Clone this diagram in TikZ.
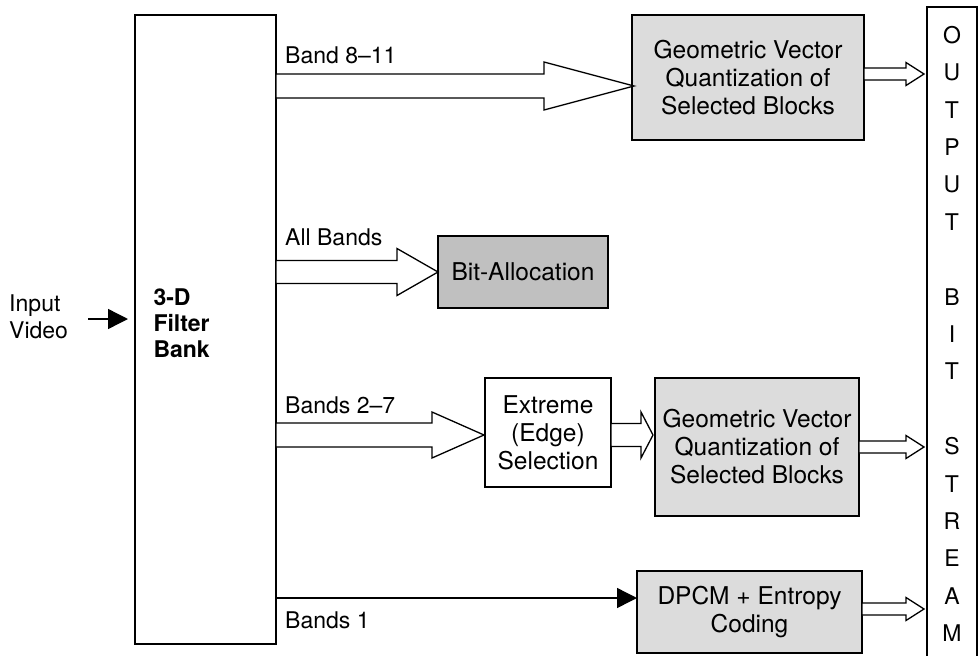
\documentclass[tikz,border=0pt]{standalone}
\usepackage{fontspec}
\setmainfont{TeX Gyre Heros}
\usetikzlibrary{calc,arrows.meta}
\newcommand{\hollowarr}[5]{%
  \draw[harrowstyle] ($(#1)+(0,-#3)$) -- ($(#2)+(-#5,-#3)$) -- ($(#2)+(-#5,-#4)$) -- (#2)
    -- ($(#2)+(-#5,#4)$) -- ($(#2)+(-#5,#3)$) -- ($(#1)+(0,#3)$) -- cycle;}
\tikzset{
  boxstyle/.style={draw, line width=1.4pt, inner sep=0pt, outer sep=0pt, rectangle},
  txt/.style={font=\fontsize{23}{27}\selectfont},
  btxt/.style={font=\fontsize{24.5}{28}\selectfont},
  harrowstyle/.style={draw, fill=white, line width=1.3pt, line join=miter},
  solidarr/.style={line width=1.4pt, -{Triangle[length=20pt,width=20pt]}},
}
\definecolor{lgray}{HTML}{DCDCDC}
\definecolor{mgray}{HTML}{C0C0C0}
\begin{document}
\begin{tikzpicture}[x=1pt,y=-1pt]
\useasboundingbox (0,0) rectangle (980,656);
\clip (0,0) rectangle (980,656);

% boxes
\node[boxstyle, minimum width=141pt, minimum height=629pt] (fb) at (205.5,329.5) {};
\node[txt, font=\fontsize{23}{26}\selectfont\bfseries, anchor=west, align=left] (fbtxt) at (150,323) {3-D\\Filter\\Bank};

\node[boxstyle, fill=lgray, minimum width=232pt, minimum height=125pt, btxt, align=center] (gvq1) at (748,77.5) {Geometric Vector\\Quantization of\\Selected Blocks};
\node[boxstyle, fill=mgray, minimum width=170pt, minimum height=72pt, btxt] (bit) at (523,272) {Bit-Allocation};
\node[boxstyle, fill=white, minimum width=126pt, minimum height=109pt, btxt, align=center] (ext) at (548,432.5) {Extreme\\(Edge)\\Selection};
\node[boxstyle, fill=lgray, minimum width=204pt, minimum height=138pt, btxt, align=center] (gvq2) at (757,447) {Geometric Vector\\Quantization of\\Selected Blocks};
\node[boxstyle, fill=lgray, minimum width=225pt, minimum height=82pt, btxt, align=center] (dpcm) at (749.5,612) {DPCM + Entropy\\Coding};
\node[boxstyle, minimum width=50pt, minimum height=663pt] (out) at (952,338.5) {};

% output letters
\foreach \l/\k [count=\i] in {O/0,U/1,T/2,P/3,U/4,T/5,B/7,I/8,T/9,S/11,T/12,R/13,E/14,A/15,M/16}
  \node[txt, anchor=base, inner sep=0pt] (ol\i) at (952, 35+37.4*\k+8.2) {\l};

% input
\node[txt, anchor=west, align=left, inner sep=0pt] (inp) at (9,317) {Input\\Video};
\coordinate (inpS) at (88,319);
\draw[solidarr, shorten >=7pt] (inpS) -- (fb.west |- inpS);

% labels
\node[txt, anchor=base west, inner sep=0pt] (l1) at (285,63) {Band 8--11};
\node[txt, anchor=base west, inner sep=0pt] (l2) at (285,245) {All Bands};
\node[txt, anchor=base west, inner sep=0pt] (l3) at (285,413) {Bands 2--7};
\node[txt, anchor=base west, inner sep=0pt] (l4) at (285,628) {Bands 1};

% hollow arrows
\coordinate (a1t) at (276,86);  \coordinate (a1h) at ($(gvq1.west |- a1t)+(2,0)$);
\hollowarr{a1t}{a1h}{12}{24}{90}
\coordinate (a2t) at (276,272); \coordinate (a2h) at (bit.west |- a2t);
\hollowarr{a2t}{a2h}{11.5}{23.5}{41}
\coordinate (a3t) at (276,435); \coordinate (a3h) at ($(ext.west |- a3t)+(-1,0)$);
\hollowarr{a3t}{a3h}{12}{23}{52}
\coordinate (a4t) at (ext.east |- a3t); \coordinate (a4h) at ($(gvq2.west |- a3t)+(-2,0)$);
\hollowarr{a4t}{a4h}{11.5}{23}{12}
\coordinate (a5t) at (gvq1.east |- 0,74); \coordinate (a5h) at ($(out.west |- a5t)+(-3,0)$);
\hollowarr{a5t}{a5h}{6}{11.5}{18}
\coordinate (a6t) at (gvq2.east |- 0,447); \coordinate (a6h) at ($(out.west |- a6t)+(-3,0)$);
\hollowarr{a6t}{a6h}{6}{11.5}{18}
\coordinate (a7t) at (dpcm.east |- 0,609); \coordinate (a7h) at ($(out.west |- a7t)+(-3,0)$);
\hollowarr{a7t}{a7h}{6}{11.5}{18}

% bands 1 solid arrow
\coordinate (b1t) at (276,598);
\draw[solidarr] (b1t) -- (dpcm.west |- b1t);
\end{tikzpicture}
\end{document}
